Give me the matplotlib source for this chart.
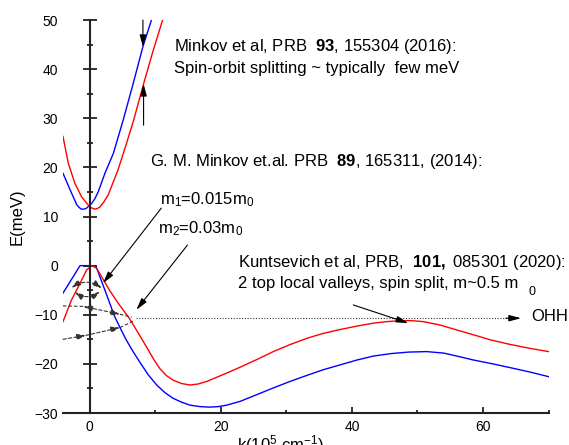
import matplotlib
matplotlib.use("Agg")
import matplotlib.pyplot as plt
from matplotlib.ticker import MultipleLocator

plt.rcParams.update({
    "font.family": "Liberation Sans",
    "font.size": 12,
    "mathtext.fontset": "custom",
    "mathtext.rm": "Liberation Sans",
    "mathtext.it": "Liberation Sans:italic",
    "mathtext.bf": "Liberation Sans:bold",
})

# conduction band, two spin branches (k in 1e5 cm^-1, E in meV)
k_cb_blue = [-4.1, -3.0, -2.0, -1.6, -1.3, -0.9, -0.5, 0.3, 0.8, 1.3, 2.3, 3.6, 5.1,
             6.6, 8.1, 9.4]
E_cb_blue = [18.8, 15.4, 12.4, 11.8, 11.5, 11.5, 11.7, 12.7, 13.7, 15.1, 18.8, 22.9,
             29.7, 37.0, 44.6, 50.0]
k_cb_red = [-4.1, -3.3, -2.3, -1.3, -0.3, 0.2, 0.7, 1.1, 1.5, 2.1, 2.8, 4.3, 5.6, 6.7,
            8.2, 9.6, 11.1]
E_cb_red = [26.3, 20.9, 16.8, 14.1, 12.4, 11.8, 11.5, 11.6, 11.9, 12.9, 14.4, 19.5,
            24.9, 29.7, 37.0, 43.5, 50.0]

# valence band, two spin branches
k_vb_blue = [-4.1, -1.5, 0.9, 1.6, 2.3, 3.05, 3.8, 4.6, 5.5, 6.6, 7.6, 8.9, 10.2, 11.5,
             12.7, 14.0, 15.3, 16.8, 18.3, 19.6, 20.9, 23.0, 25.4, 28.0, 30.5, 33.0,
             35.6, 38.2, 40.8, 43.3, 46.0, 48.6, 51.4, 54.0, 56.3, 58.5, 61.5, 64.6,
             67.3, 70.0]
E_vb_blue = [-5.6, 0.0, 0.0, -2.5, -5.0, -7.7, -10.4, -12.6, -15.0, -17.5, -19.6, -22.2,
             -24.3, -25.9, -27.0, -27.8, -28.4, -28.7, -28.8, -28.7, -28.4, -27.6, -26.3,
             -24.9, -23.6, -22.4, -21.2, -20.2, -19.2, -18.4, -17.9, -17.6, -17.5, -17.8,
             -18.5, -19.2, -20.0, -20.9, -21.7, -22.6]
k_vb_red = [-4.1, -2.8, -1.5, -0.5, 0.3, 1.0, 1.9, 3.0, 4.4, 5.85, 6.7, 7.6, 8.8, 9.8,
            10.7, 11.7, 12.7, 14.0, 15.3, 16.5, 17.8, 20.3, 22.9, 25.5, 28.0, 30.5,
            33.1, 35.6, 38.2, 40.8, 43.3, 45.3, 47.3, 49.1, 50.9, 53.5, 56.0, 58.6,
            61.1, 64.0, 67.0, 70.0]
E_vb_red = [-11.4, -7.0, -3.6, -0.9, 0.0, -0.5, -2.5, -5.0, -7.8, -10.4, -12.2, -14.2,
            -16.9, -19.2, -21.0, -22.4, -23.3, -24.0, -24.3, -24.1, -23.6, -22.2, -20.7,
            -19.1, -17.5, -16.1, -14.8, -13.8, -13.0, -12.3, -11.7, -11.4, -11.2, -11.2,
            -11.4, -12.1, -13.1, -14.1, -15.1, -16.0, -16.8, -17.5]

ohh_level = -10.7

fig = plt.figure(figsize=(5.69, 4.45), dpi=100)
ax = fig.add_axes([0.1107, 0.0719, 0.8533, 0.8831])

ax.plot(k_cb_blue, E_cb_blue, color="blue", lw=1.0)
ax.plot(k_cb_red, E_cb_red, color="red", lw=1.0)
ax.plot(k_vb_blue, E_vb_blue, color="blue", lw=1.0)
ax.plot(k_vb_red, E_vb_red, color="red", lw=1.0)

ax.set_xlim(-4.1, 70)
ax.set_ylim(-30, 50)

axis_color = "#222222"
for side in ("top", "right"):
    ax.spines[side].set_visible(False)
ax.spines["left"].set_position(("data", 0))
for side in ("left", "bottom"):
    ax.spines[side].set_linewidth(1.5)
    ax.spines[side].set_color(axis_color)

ax.xaxis.set_major_locator(MultipleLocator(20))
ax.xaxis.set_minor_locator(MultipleLocator(10))
ax.yaxis.set_major_locator(MultipleLocator(10))
ax.yaxis.set_minor_locator(MultipleLocator(5))
ax.tick_params(axis="y", which="major", direction="inout", length=9.6, width=1.3,
               pad=18, labelsize=10, color=axis_color)
ax.tick_params(axis="y", which="minor", direction="inout", length=4.8, width=1.3,
               color=axis_color)
ax.tick_params(axis="x", which="major", direction="in", length=4.5, width=1.3,
               pad=5, labelsize=10, color=axis_color)
ax.tick_params(axis="x", which="minor", direction="in", length=2.2, width=1.3,
               color=axis_color)

ax.set_xlabel(r"k(10$^5$ cm$^{-1}$)", fontsize=12)
ax.xaxis.set_label_coords(0.447, -0.052)
ax.set_ylabel("E(meV)", fontsize=12)
ax.yaxis.set_label_coords(-0.078, 0.5)

arrow = dict(arrowstyle="-|>,head_length=0.6,head_width=0.16", color="black",
             lw=0.8, mutation_scale=12, shrinkA=0, shrinkB=0)
dashed = dict(arrow, arrowstyle="<|-|>,head_length=0.6,head_width=0.2",
              mutation_scale=9, linestyle=(0, (3, 2)), color="#333333")
one_way = dict(dashed, arrowstyle="-|>,head_length=0.6,head_width=0.2")

# spin splitting of the conduction band
ax.annotate("", xy=(8.1, 44.5), xytext=(8.1, 50), arrowprops=arrow)
ax.annotate("", xy=(8.2, 37.0), xytext=(8.2, 28.6), arrowprops=arrow)
ax.text(12.9, 44.6, r"Minkov et al, PRB  $\mathbf{93}$, 155304 (2016):", va="center")
ax.text(12.9, 40.2, "Spin-orbit splitting ~ typically  few meV", va="center")

# effective masses near k = 0
ax.text(9.2, 21.2, r"G. M. Minkov et.al. PRB  $\mathbf{89}$, 165311, (2014):", va="center")
ax.text(10.7, 12.4, r"m$_1$=0.015m$_0$", va="baseline")
ax.text(10.4, 6.6, r"m$_2$=0.03m$_0$", va="baseline")
ax.annotate("", xy=(2.0, -3.6), xytext=(10.9, 11.7), arrowprops=arrow)
ax.annotate("", xy=(7.1, -9.0), xytext=(14.9, 4.2), arrowprops=arrow)

ax.annotate("", xy=(-2.8, -4.5), xytext=(1.8, -4.6),
            arrowprops=dict(dashed, connectionstyle="arc3,rad=0.35"))
ax.annotate("", xy=(-2.3, -5.4), xytext=(1.5, -5.3),
            arrowprops=dict(dashed, connectionstyle="arc3,rad=-0.35"))
ax.plot([-4.1, -1.0], [-8.2, -8.3], color="#333333", lw=0.8, ls=(0, (3, 2)))
ax.annotate("", xy=(-1.0, -8.3), xytext=(4.6, -9.9), arrowprops=dashed)
ax.plot([4.6, 6.4], [-9.9, -10.5], color="#333333", lw=0.8, ls=(0, (3, 2)))
ax.annotate("", xy=(-0.6, -14.2), xytext=(-4.1, -15.0), arrowprops=one_way)
ax.annotate("", xy=(4.6, -12.6), xytext=(-0.6, -14.2), arrowprops=one_way)
ax.plot([4.6, 6.9], [-12.6, -11.1], color="#333333", lw=0.8, ls=(0, (3, 2)))

# heavy-hole side valleys
ax.text(22.6, -0.2, r"Kuntsevich et al, PRB,  $\mathbf{101,}$ 085301 (2020):", va="baseline")
ax.text(22.6, -4.5, "2 top local valleys, spin split, m~0.5 m", va="baseline")
ax.text(66.9, -6.0, "0", va="baseline", fontsize=9)
ax.annotate("", xy=(48.6, -11.7), xytext=(40.2, -8.0), arrowprops=arrow)

ax.plot([7.1, 64.0], [ohh_level, ohh_level], color="#333333", lw=0.8, ls=(0, (1, 1.5)))
ax.annotate("", xy=(65.8, ohh_level), xytext=(63.5, ohh_level), arrowprops=arrow,
            annotation_clip=False)
ax.text(67.3, ohh_level + 0.3, "OHH", va="center")

fig.savefig("out.png", dpi=100)
